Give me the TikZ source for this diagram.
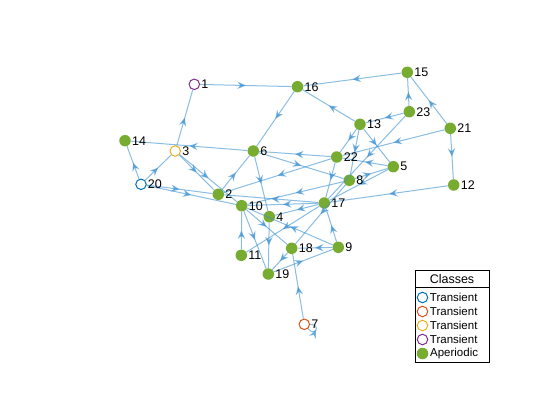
\documentclass[tikz,border=0pt]{standalone}
\usepackage{fontspec}
\setmainfont{Liberation Sans}
\usetikzlibrary{arrows.meta,decorations.markings,positioning}

\definecolor{aperiodic}{RGB}{119,172,48}
\definecolor{tazul}{RGB}{0,114,189}
\definecolor{tnaranja}{RGB}{217,83,25}
\definecolor{tamarillo}{RGB}{237,177,32}
\definecolor{tmorado}{RGB}{126,47,142}
\definecolor{arista}{RGB}{60,145,210}

\begin{document}
\begin{tikzpicture}[x=1pt, y=-1pt, auto]
		\useasboundingbox (0,0) rectangle (560,420);
		% Definición de estilos
		\tikzstyle{estado} = [circle, fill=aperiodic, minimum size=11.5pt, inner sep=0pt]
		\tikzstyle{transitorio} = [circle, draw, line width=1pt, fill=white, minimum size=10.5pt, inner sep=0pt]
		\tikzstyle{etiqueta} = [font=\fontsize{12.5}{14}\selectfont, inner sep=0pt, anchor=west]
		\tikzstyle{line} = [draw, arista, opacity=0.6, line width=1pt,
			decoration={markings, mark=at position 0.5 with {\arrow{Stealth[length=8.5pt, width=7.5pt, inset=3pt]}}},
			postaction={decorate}]

		% Nodos
		\node [transitorio, draw=tmorado] (n1) at (194.3,84.3) {};
		\node [transitorio, draw=tamarillo] (n3) at (175.3,151) {};
		\node [transitorio, draw=tazul] (n20) at (141,184.3) {};
		\node [transitorio, draw=tnaranja] (n7) at (304.3,324.3) {};
		\node [estado] (n16) at (297.5,86.7) {};
		\node [estado] (n15) at (407.3,72.3) {};
		\node [estado] (n23) at (409.3,111.7) {};
		\node [estado] (n13) at (360,124.3) {};
		\node [estado] (n21) at (450.3,128.3) {};
		\node [estado] (n14) at (125,140.7) {};
		\node [estado] (n6) at (253.3,151) {};
		\node [estado] (n22) at (336.7,157) {};
		\node [estado] (n5) at (393.3,166.7) {};
		\node [estado] (n8) at (349.3,180.3) {};
		\node [estado] (n12) at (453.7,185) {};
		\node [estado] (n2) at (218.3,194.3) {};
		\node [estado] (n10) at (241.7,205.7) {};
		\node [estado] (n17) at (324.3,203) {};
		\node [estado] (n4) at (269.3,216.7) {};
		\node [estado] (n18) at (291.7,248.3) {};
		\node [estado] (n9) at (338.3,247.3) {};
		\node [estado] (n11) at (241.3,255.3) {};
		\node [estado] (n19) at (268.3,274) {};

		% Conexiones
		\path [line] (n1) -- (n16);
		\path [line] (n3) -- (n1);
		\path [line] (n15) -- (n16);
		\path [line] (n16) -- (n6);
		\path [line] (n13) -- (n16);
		\path [line] (n23) -- (n15);
		\path [line] (n21) -- (n15);
		\path [line] (n21) -- (n12);
		\path [line] (n23) -- (n13);
		\path [line] (n23) -- (n17);
		\path [line] (n21) -- (n22);
		\path [line] (n13) -- (n22);
		\path [line] (n13) -- (n8);
		\path [line] (n13) -- (n5);
		\path [line] (n5) -- (n22);
		\path [line] (n8) -- (n5);
		\path [line] (n5) -- (n17);
		\path [line] (n22) -- (n17);
		\path [line] (n22) -- (n6);
		\path [line] (n6) -- (n8);
		\path [line] (n22) -- (n2);
		\path [line] (n6) -- (n14);
		\path [line] (n20) -- (n14);
		\path [line] (n20) -- (n3);
		\path [line] (n3) -- (n2);
		\path [line] (n3) -- (n10);
		\path [line] (n2) -- (n6);
		\path [line] (n6) -- (n4);
		\path [line] (n20) -- (n2);
		\path [line] (n20) -- (n10);
		\path [line] (n17) -- (n10);
		\path [line] (n17) -- (n2);
		\path [line] (n8) -- (n10);
		\path [line] (n12) -- (n17);
		\path [line] (n17) -- (n4);
		\path [line] (n9) -- (n17);
		\path [line] (n9) -- (n18);
		\path [line] (n9) -- (n10);
		\path [line] (n10) -- (n18);
		\path [line] (n4) -- (n19);
		\path [line] (n10) -- (n19);
		\path [line] (n11) -- (n10);
		\path [line] (n17) -- (n11);
		\path [line] (n18) -- (n19);
		\path [line] (n19) -- (n9);
		\path [line] (n7) -- (n18);
		\path [line] (n8) -- (n18);
		\path [line] (n7) to [out=-50, in=0, looseness=6] (n7);

		% Etiquetas
		\foreach \n in {1,3,20,7,16,15,23,13,21,14,6,22,5,8,12,2,10,17,4,18,9,11,19}
			\node [etiqueta, right=1pt of n\n] (l\n) {\n};

		% Leyenda
		\draw [fill=white, line width=0.5pt] (415,270) rectangle (489,362);
		\draw [line width=0.5pt] (415,287.5) -- (489,287.5);
		\node [etiqueta, anchor=center] (titulo) at (452,279) {Classes};
		\node [transitorio, draw=tazul] (ley1) at (422.5,297.5) {};
		\node [transitorio, draw=tnaranja] (ley2) at (422.5,311.5) {};
		\node [transitorio, draw=tamarillo] (ley3) at (422.5,325.5) {};
		\node [transitorio, draw=tmorado] (ley4) at (422.5,339.5) {};
		\node [estado] (ley5) at (422.5,353.5) {};
		\node [etiqueta, right=1.5pt of ley1, font=\fontsize{11.5}{13}\selectfont] (tl1) {Transient};
		\node [etiqueta, right=1.5pt of ley2, font=\fontsize{11.5}{13}\selectfont] (tl2) {Transient};
		\node [etiqueta, right=1.5pt of ley3, font=\fontsize{11.5}{13}\selectfont] (tl3) {Transient};
		\node [etiqueta, right=1.5pt of ley4, font=\fontsize{11.5}{13}\selectfont] (tl4) {Transient};
		\node [etiqueta, right=1.5pt of ley5, font=\fontsize{11.5}{13}\selectfont] (tl5) {Aperiodic};
	\end{tikzpicture}
\end{document}
